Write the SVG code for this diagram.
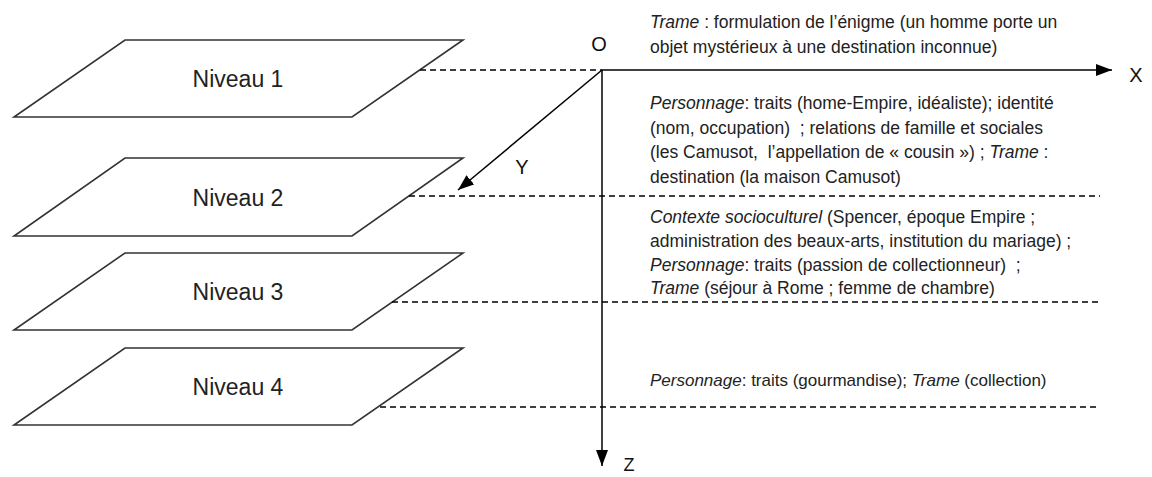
<svg xmlns="http://www.w3.org/2000/svg" width="1152" height="477" viewBox="0 0 1152 477">
<style>
.plane{fill:#fff;stroke:#333;stroke-width:1.6;stroke-linejoin:miter}
.lvl{font-family:"Liberation Sans",Arial,sans-serif;font-size:23px;fill:#222;text-anchor:middle}
.axis{stroke:#000;stroke-width:1.5;fill:none}
.dash{stroke:#000;stroke-width:1.5;stroke-dasharray:6,4;fill:none}
.lab{font-family:"Liberation Sans",Arial,sans-serif;font-size:20px;fill:#111;text-anchor:middle}
.txt{font-family:"Liberation Sans",Arial,sans-serif;font-size:17.5px;fill:#222;white-space:pre}
.small{font-size:17px}
.it{font-style:italic}
</style>
<defs>
<marker id="arr" viewBox="0 0 16 12" refX="16" refY="6" markerWidth="16" markerHeight="12" markerUnits="userSpaceOnUse" orient="auto">
<path d="M0,0 L16,6 L0,12 Z" fill="#000"/>
</marker>
</defs>
<rect width="1152" height="477" fill="#fff"/>

<g id="niveau1">
<polygon class="plane" points="125,40 463,40 352,117 14,117"/>
<text class="lvl" x="238" y="87">Niveau 1</text>
</g>
<g id="niveau2">
<polygon class="plane" points="125,158 463,158 352,236 14,236"/>
<text class="lvl" x="238" y="206">Niveau 2</text>
</g>
<g id="niveau3">
<polygon class="plane" points="125,253 463,253 352,330 14,330"/>
<text class="lvl" x="238" y="300">Niveau 3</text>
</g>
<g id="niveau4">
<polygon class="plane" points="125,348 463,348 352,425 14,425"/>
<text class="lvl" x="238" y="395">Niveau 4</text>
</g>

<g id="connectors">
<line class="dash" x1="420" y1="70" x2="602" y2="70"/>
<line class="dash" x1="409" y1="196" x2="1100" y2="196"/>
<line class="dash" x1="392" y1="302" x2="1100" y2="302"/>
<line class="dash" x1="380" y1="407" x2="1100" y2="407"/>
<line class="axis" x1="602" y1="70" x2="1112" y2="70" marker-end="url(#arr)"/>
<line class="axis" x1="602" y1="70" x2="458" y2="190" marker-end="url(#arr)"/>
<line class="axis" x1="602" y1="70" x2="602" y2="466" marker-end="url(#arr)"/>
</g>

<g id="labels">
<text class="lab" x="599" y="51">O</text>
<text class="lab" x="1136" y="82">X</text>
<text class="lab" x="522" y="174">Y</text>
<text class="lab" x="629" y="471" style="font-size:18px">Z</text>
</g>

<g id="texte1">
<text class="txt" x="650" y="28"><tspan class="it">Trame</tspan> : formulation de l’énigme (un homme porte un</text>
<text class="txt" x="650" y="53">objet mystérieux à une destination inconnue)</text>
</g>
<g id="texte2">
<text class="txt" x="650" y="109"><tspan class="it">Personnage</tspan>: traits (home-Empire, idéaliste); identité</text>
<text class="txt" x="650" y="134">(nom, occupation)  ; relations de famille et sociales</text>
<text class="txt" x="650" y="158">(les Camusot,  l’appellation de « cousin ») ; <tspan class="it">Trame</tspan> :</text>
<text class="txt" x="650" y="183">destination (la maison Camusot)</text>
</g>
<g id="texte3">
<text class="txt" x="650" y="223"><tspan class="it">Contexte socioculturel</tspan> (Spencer, époque Empire ;</text>
<text class="txt" x="650" y="247">administration des beaux-arts, institution du mariage) ;</text>
<text class="txt" x="650" y="271"><tspan class="it">Personnage</tspan>: traits (passion de collectionneur)  ;</text>
<text class="txt" x="650" y="294"><tspan class="it">Trame</tspan> (séjour à Rome ; femme de chambre)</text>
</g>
<g id="texte4">
<text class="txt small" x="650" y="386"><tspan class="it">Personnage</tspan>: traits (gourmandise); <tspan class="it">Trame</tspan> (collection)</text>
</g>
</svg>
